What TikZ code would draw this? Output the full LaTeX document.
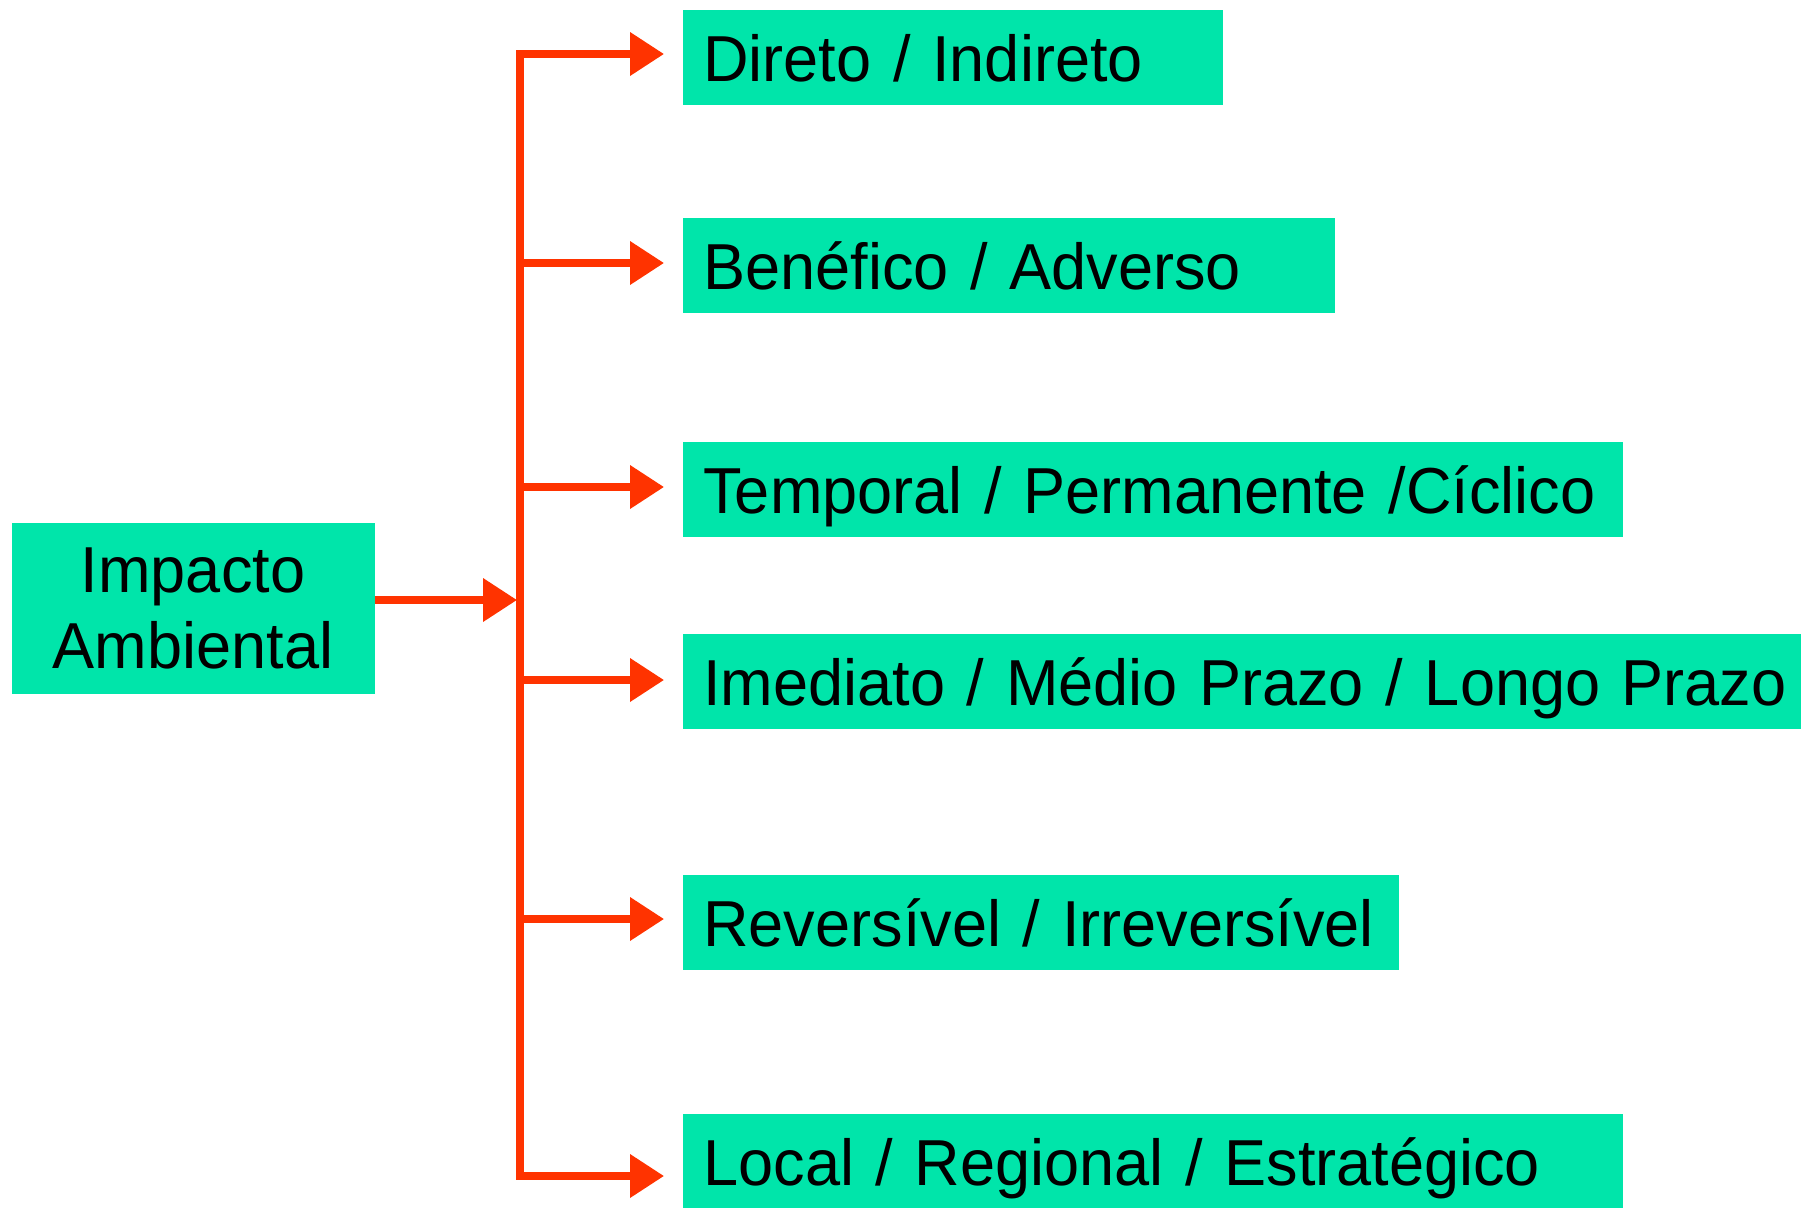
\documentclass[tikz,border=0pt]{standalone}
\usepackage{fontspec}
\setmainfont[FakeStretch=0.97]{Liberation Sans}
\usetikzlibrary{arrows.meta}
\definecolor{boxgreen}{RGB}{0,229,170}
\definecolor{arrowred}{RGB}{255,51,0}
\tikzset{
	kindbox/.style={fill=boxgreen, anchor=north west, inner xsep=10pt, inner ysep=0pt,
		minimum height=47.5pt, text height=23.3pt, text depth=0pt, align=left,
		font=\fontsize{32.5}{38}\selectfont},
	mainbox/.style={fill=boxgreen, inner sep=0pt, minimum width=181.5pt, minimum height=85.5pt,
		align=center, font=\fontsize{32.5}{38}\selectfont},
	branch/.style={draw=arrowred, line width=3.6pt, -{Triangle[length=17pt,width=21pt]}}
}
\begin{document}
\begin{tikzpicture}[x=0.5pt,y=-0.5pt]
		\useasboundingbox (0,0) rectangle (1801,1207);
		% impact box
			\node [mainbox] (imp) at (193,608.2) {Impacto\\Ambiental};
		% kinds of impact
			\node [kindbox, text width=250pt] (b1) at (683,10) {\mbox{Direto / Indireto}};
			\node [kindbox, text width=306pt] (b2) at (683,218) {\mbox{Benéfico / Adverso}};
			\node [kindbox, text width=450pt] (b3) at (683,442) {\mbox{Temporal / Permanente /Cíclico}};
			\node [kindbox, text width=550pt] (b4) at (683,634) {\mbox{Imediato / Médio Prazo / Longo Prazo}};
			\node [kindbox, text width=338pt] (b5) at (683,875) {\mbox{Reversível / Irreversível}};
			\node [kindbox, text width=450pt] (b6) at (683,1114) {\mbox{Local / Regional / Estratégico}};
		% trunk
			\coordinate (join) at (520,600);
			\foreach \y [count=\i] in {54,263,487,680,919,1176}
				\coordinate (k\i) at (520,\y);
			\draw [arrowred, line width=3.6pt, line cap=rect] (k1) -- (k6);
			\draw [branch, shorten >=1.5pt] (imp.east |- join) -- (join);
		% arrows
			\foreach \i in {1,...,6}
				\draw [branch, shorten >=9.5pt] (k\i) -- (k\i -| b\i.west);
	\end{tikzpicture}
\end{document}
